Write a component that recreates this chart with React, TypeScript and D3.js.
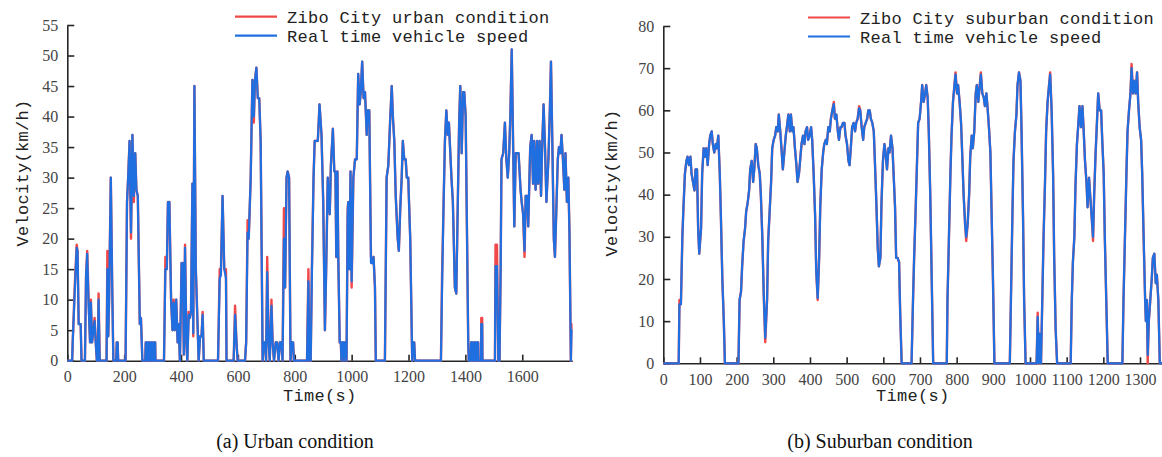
import React, { useEffect, useRef } from 'react'
import * as d3 from 'd3'

type Pt = [number, number]

// (a) urban driving cycle: [time s, km/h]
const urbanCycle: Pt[] = [
  [0,0],[17,0],[19,3],[26,12],[33,19],[36,18],[40,6],[47,6],[50,0],[62,0],[66,14],[70,18],[75,10],[80,3],[83,10],[87,3],[96,7],[100,3],[104,0],[107,0],[110,11],[114,0],
  [138,0],[141,18],[144,4],[147,10],[153,30],[158,12],[162,0],[172,0],[174,3],[177,3],[179,0],
  [205,0],[210,26],[214,30],[219,36],[224,20],[229,37],[234,26],[239,34],[243,28],[248,27],[255,6],[259,7],[264,0],
  [274,0],[276,3],[280,3],[281,0],[284,0],[286,3],[289,3],[290,0],[294,0],[296,3],[299,3],[300,0],[305,0],[306,3],[309,3],[310,0],
  [340,0],[345,17],[350,15],[354,26],[359,26],[365,10],[370,5],[374,10],[378,5],[383,10],[388,3],[392,6],[396,0],[402,16],[406,16],[410,1],[414,19],[419,3],[422,0],[427,8],[431,7],[435,8],[440,29],[443,4],[447,45],[452,15],[458,6],[462,0],[467,4],[472,4],[476,8],[480,0],
  [530,0],[536,15],[540,14],[546,27],[552,15],[558,15],[560,0],
  [585,0],[590,9],[595,3],[599,0],
  [625,0],[629,3],[634,23],[638,20],[645,30],[651,46],[656,39],[660,46],[665,48],[670,43],[675,43],[680,36],[687,0],[692,3],[697,3],[699,0],[703,17],[708,3],[712,0],[718,10],[722,3],[727,0],[733,3],[738,3],[743,0],[748,3],[753,3],[757,0],[762,25],[766,12],[771,30],[775,31],[780,30],[785,0],[789,3],[794,3],[797,0],
  [843,0],[848,15],[851,0],[856,0],[860,15],[866,30],[870,36],[875,36],[881,36],[887,42],[894,37],[900,26],[906,5],[910,14],[916,30],[923,24],[927,32],[934,38],[939,31],[943,31],[946,17],[950,31],[953,17],[958,3],[962,3],[964,0],[967,3],[971,3],[973,0],[976,3],[980,3],[982,0],[986,25],[988,26],[992,15],[996,31],[1000,12],[1006,30],[1012,33],[1018,33],[1023,47],[1028,42],[1032,44],[1037,49],[1042,43],[1047,44],[1053,37],[1056,41],[1062,41],[1068,17],[1073,16],[1077,17],[1082,12],[1085,0],
  [1117,0],[1123,30],[1129,32],[1136,40],[1141,45],[1145,40],[1150,36],[1155,27],[1162,20],[1166,18],[1171,25],[1176,30],[1180,36],[1185,33],[1190,33],[1194,30],[1199,30],[1206,20],[1213,0],[1217,3],[1220,3],[1223,0],
  [1314,0],[1318,14],[1323,25],[1328,36],[1333,41],[1338,37],[1342,39],[1347,34],[1351,30],[1356,26],[1363,12],[1368,11],[1373,25],[1378,39],[1382,45],[1387,34],[1392,44],[1396,44],[1401,40],[1410,3],[1412,0],
  [1419,0],[1420,3],[1424,3],[1425,0],[1430,0],[1431,3],[1435,3],[1436,0],[1440,0],[1441,3],[1445,3],[1446,0],[1455,0],[1456,7],[1459,7],[1460,0],
  [1504,0],[1506,19],[1511,19],[1516,0],[1518,3],[1520,0],[1524,15],[1527,33],[1533,34],[1539,39],[1544,33],[1549,30],[1554,34],[1558,40],[1563,51],[1568,35],[1572,22],[1577,34],[1582,34],[1587,34],[1594,28],[1598,26],[1603,24],[1608,17],[1612,27],[1617,27],[1621,22],[1628,35],[1633,37],[1638,29],[1642,36],[1647,28],[1652,36],[1656,29],[1661,36],[1666,27],[1670,35],[1675,42],[1680,35],[1685,26],[1692,33],[1697,41],[1701,49],[1706,35],[1711,20],[1715,17],[1720,25],[1725,33],[1729,35],[1734,34],[1738,37],[1743,33],[1748,28],[1752,34],[1757,26],[1762,30],[1766,21],[1771,0],[1773,6],[1776,6],
]

const urbanSpeed: Pt[] = [
  [0,0],[17,0],[19,3],[26,11],[33,18.5],[36,18],[40,6],[47,6],[50,0],[62,0],[66,14],[70,17.5],[75,9],[80,3],[83,9.5],[87,3],[96,6.5],[100,3],[104,0],[107,0],[110,10],[114,0],
  [138,0],[141,15],[144,4],[147,10],[153,30],[158,12],[162,0],[172,0],[174,3],[177,3],[179,0],
  [205,0],[210,26],[214,30],[219,36],[224,21],[229,37],[234,27],[239,34],[243,28],[248,27],[255,6],[259,7],[264,0],
  [274,0],[276,3],[280,3],[281,0],[284,0],[286,3],[289,3],[290,0],[294,0],[296,3],[299,3],[300,0],[305,0],[306,3],[309,3],[310,0],
  [340,0],[345,15],[350,15],[354,26],[359,26],[365,10],[370,5],[374,9.5],[378,5],[383,10],[388,3],[392,6],[396,0],[402,16],[406,16],[410,1],[414,18.5],[419,3],[422,0],[427,7.5],[431,7],[435,8],[440,29],[443,4.5],[447,45],[452,15],[458,6],[462,0],[467,4],[472,4],[476,7.5],[480,0],
  [530,0],[536,13.5],[540,14],[546,27],[552,15],[558,13.5],[560,0],
  [585,0],[590,7.5],[595,3],[599,0],
  [625,0],[629,3],[634,21],[638,20],[645,30],[651,46],[656,40],[660,46],[665,48],[670,43],[675,43],[680,36],[687,0],[692,3],[697,3],[699,0],[703,14.5],[708,3],[712,0],[718,9],[722,3],[727,0],[733,3],[738,3],[743,0],[748,3],[753,3],[757,0],[762,20],[766,12],[771,30],[775,31],[780,30],[785,0],[789,3],[794,3],[797,0],
  [843,0],[848,13],[851,0],[856,0],[860,13.5],[866,30],[870,36],[875,36],[881,36],[887,42],[894,37],[900,26],[906,5],[910,14],[916,30],[923,24],[927,32],[934,38],[939,31],[943,31],[946,17],[950,31],[953,17],[958,3],[962,3],[964,0],[967,3],[971,3],[973,0],[976,3],[980,3],[982,0],[986,24],[988,26],[992,15],[996,31],[1000,13],[1006,30],[1012,33],[1018,33],[1023,47],[1028,42],[1032,44],[1037,49],[1042,43],[1047,44],[1053,37],[1056,41],[1062,41],[1068,16],[1073,16],[1077,17],[1082,12],[1085,0],
  [1117,0],[1123,30],[1129,32],[1136,40],[1141,45],[1145,40],[1150,36],[1155,27],[1162,20],[1166,18],[1171,25],[1176,30],[1180,36],[1185,33],[1190,33],[1194,30],[1199,30],[1206,20],[1213,0],[1217,3],[1220,3],[1223,0],
  [1314,0],[1318,12],[1323,25],[1328,36],[1333,41],[1338,37],[1342,39],[1347,34],[1351,30],[1356,26],[1363,12],[1368,11],[1373,25],[1378,39],[1382,45],[1387,34],[1392,44],[1396,44],[1401,40],[1410,3],[1412,0],
  [1419,0],[1420,3],[1424,3],[1425,0],[1430,0],[1431,3],[1435,3],[1436,0],[1440,0],[1441,3],[1445,3],[1446,0],[1455,0],[1456,6],[1459,6],[1460,0],
  [1504,0],[1506,15.5],[1511,15.5],[1516,0],[1518,3],[1520,0],[1524,15],[1527,33],[1533,34],[1539,39],[1544,33],[1549,30],[1554,34],[1558,40],[1563,51],[1568,35],[1572,22],[1577,34],[1582,34],[1587,34],[1594,28],[1598,26],[1603,24],[1608,18],[1612,27],[1617,27],[1621,22],[1628,35],[1633,37],[1638,29],[1642,36],[1647,28],[1652,36],[1656,29],[1661,36],[1666,27],[1670,35],[1675,42],[1680,35],[1685,26],[1692,33],[1697,41],[1701,49],[1706,35],[1711,20],[1715,17],[1720,25],[1725,33],[1729,35],[1734,34],[1738,37],[1743,33],[1748,28],[1752,34],[1757,26],[1762,30],[1766,21],[1771,0],[1773,5],[1776,5],
]

// (b) suburban driving cycle
const suburbanCycle: Pt[] = [
  [0,0],[42,0],[44,15],[48,14],[52,30],[55,37],[59,45],[63,48],[66,49],[70,47],[74,49],[77,45],[81,43],[85,41],[88,46],[92,46],[95,32],[98,26],[103,32],[106,45],[110,51],[114,49],[117,51],[121,47],[125,52],[128,54],[132,55],[135,52],[139,50],[143,52],[146,51],[150,54],[154,45],[157,35],[161,20],[165,10],[168,0],
  [205,0],[208,15],[212,17],[215,23],[219,29],[223,32],[226,36],[230,38],[234,41],[237,46],[241,48],[245,43],[248,46],[252,52],[255,51],[259,47],[263,45],[266,40],[270,30],[274,16],[278,5],[283,15],[286,29],[290,36],[294,43],[297,51],[301,53],[305,54],[308,56],[312,55],[315,59],[319,55],[323,50],[326,46],[330,50],[334,54],[337,56],[341,59],[345,55],[348,59],[352,55],[355,56],[359,51],[363,47],[366,43],[370,45],[374,49],[377,52],[381,54],[385,52],[388,55],[392,56],[395,53],[399,54],[403,56],[406,53],[410,45],[414,35],[417,22],[421,15],
  [425,25],[428,37],[432,46],[436,50],[439,52],[443,53],[446,52],[450,56],[454,55],[457,58],[461,60],[465,62],[468,58],[472,59],[476,55],[479,53],[483,56],[486,56],[490,57],[494,57],[497,54],[501,52],[505,48],[508,47],[512,52],[515,56],[519,57],[523,55],[526,57],[530,58],[534,61],[537,60],[541,56],[545,53],[548,56],[552,57],[556,58],[559,60],[563,60],[566,58],[570,57],[574,55],[577,48],[581,38],[585,27],[588,23],[592,25],[595,38],[599,48],[603,52],[606,50],[610,46],[614,51],[617,50],[621,54],[625,51],[628,45],[632,37],[635,25],[639,25],[643,24],[646,12],[650,0],
  [677,0],[681,15],[684,25],[688,36],[692,48],[695,57],[699,58],[703,62],[706,66],[710,62],[714,64],[717,66],[721,63],[724,55],[728,40],[732,20],[736,0],
  [773,0],[775,15],[779,30],[783,45],[786,54],[790,62],[794,66],[797,69],[801,64],[804,66],[808,62],[812,57],[815,50],[819,40],[823,33],[826,29],[830,33],[834,40],[837,49],[841,54],[844,51],[848,55],[852,64],[855,66],[859,62],[863,66],[866,69],[870,64],[874,63],[877,61],[881,64],[884,61],[888,56],[892,50],[895,37],[899,20],[903,0],
  [945,0],[948,15],[952,35],[955,48],[959,55],[963,59],[966,66],[970,69],[974,67],[977,55],[981,35],[984,15],[988,0],
  [1018,0],[1021,12],[1024,0],[1026,7],[1030,0],[1034,17],[1037,30],[1041,43],[1044,55],[1048,62],[1052,66],[1055,69],[1059,60],[1063,45],[1066,25],[1070,8],[1074,0],
  [1111,0],[1114,15],[1117,24],[1121,30],[1124,42],[1128,52],[1132,57],[1135,61],[1139,56],[1143,61],[1146,56],[1150,48],[1154,43],[1157,37],[1161,44],[1164,40],[1168,35],[1172,29],[1175,40],[1179,50],[1183,58],[1186,64],[1190,60],[1194,60],[1197,53],[1201,45],[1204,30],[1208,15],[1212,0],
  [1252,0],[1255,15],[1259,30],[1263,45],[1266,55],[1270,60],[1274,64],[1277,71],[1281,64],[1284,67],[1288,64],[1292,69],[1295,62],[1299,56],[1303,53],[1306,45],[1310,29],[1314,15],[1316,10],[1319,15],[1321,0],[1324,10],[1328,15],[1332,20],[1335,25],[1339,26],[1343,19],[1346,21],[1350,15],[1354,0],[1360,0],
]

const suburbanSpeed: Pt[] = [
  [0,0],[42,0],[44,14],[48,14],[52,30],[55,37],[59,45],[63,48],[66,49],[70,47],[74,49],[77,45],[81,43],[85,41],[88,46],[92,46],[95,32],[98,26],[103,32],[106,45],[110,51],[114,49],[117,51],[121,47],[125,52],[128,54],[132,55],[135,52],[139,50],[143,52],[146,51],[150,54],[154,45],[157,35],[161,20],[165,10],[168,0],
  [205,0],[208,15],[212,17],[215,23],[219,29],[223,32],[226,36],[230,38],[234,41],[237,46],[241,48],[245,43],[248,46],[252,52],[255,51],[259,47],[263,45],[266,40],[270,30],[274,16],[278,6],[283,15],[286,29],[290,36],[294,43],[297,51],[301,53],[305,54],[308,56],[312,55],[315,59],[319,55],[323,50],[326,46],[330,50],[334,54],[337,56],[341,59],[345,55],[348,59],[352,55],[355,56],[359,51],[363,47],[366,43],[370,45],[374,49],[377,52],[381,54],[385,52],[388,55],[392,56],[395,53],[399,54],[403,56],[406,53],[410,45],[414,35],[417,22],[421,15.5],
  [425,25],[428,37],[432,46],[436,50],[439,52],[443,53],[446,52],[450,56],[454,55],[457,58],[461,60],[465,61.5],[468,58],[472,59],[476,55],[479,53],[483,56],[486,56],[490,57],[494,57],[497,54],[501,52],[505,48],[508,47],[512,52],[515,56],[519,57],[523,55],[526,57],[530,58],[534,60.5],[537,60],[541,56],[545,53],[548,56],[552,57],[556,58],[559,60],[563,60],[566,58],[570,57],[574,55],[577,48],[581,38],[585,27],[588,23],[592,25],[595,38],[599,48],[603,52],[606,50],[610,46],[614,51],[617,50],[621,54],[625,51],[628,45],[632,37],[635,25],[639,25],[643,24],[646,12],[650,0],
  [677,0],[681,15],[684,25],[688,36],[692,48],[695,57],[699,58],[703,62],[706,66],[710,62],[714,64],[717,66],[721,63],[724,55],[728,40],[732,20],[736,0],
  [773,0],[775,15],[779,30],[783,45],[786,54],[790,62],[794,66],[797,68.5],[801,64],[804,66],[808,62],[812,57],[815,50],[819,40],[823,33],[826,30],[830,33],[834,40],[837,49],[841,54],[844,51],[848,55],[852,64],[855,66],[859,62],[863,66],[866,68.5],[870,64],[874,63],[877,61],[881,64],[884,61],[888,56],[892,50],[895,37],[899,20],[903,0],
  [945,0],[948,15],[952,35],[955,48],[959,55],[963,59],[966,66],[970,69],[974,67],[977,55],[981,35],[984,15],[988,0],
  [1018,0],[1021,11],[1024,0],[1026,7],[1030,0],[1034,17],[1037,30],[1041,43],[1044,55],[1048,62],[1052,66],[1055,68.5],[1059,60],[1063,45],[1066,25],[1070,8],[1074,0],
  [1111,0],[1114,15],[1117,24],[1121,30],[1124,42],[1128,52],[1132,57],[1135,61],[1139,56],[1143,61],[1146,56],[1150,48],[1154,43],[1157,37],[1161,44],[1164,40],[1168,35],[1172,30],[1175,40],[1179,50],[1183,58],[1186,64],[1190,60],[1194,60],[1197,53],[1201,45],[1204,30],[1208,15],[1212,0],
  [1252,0],[1255,15],[1259,30],[1263,45],[1266,55],[1270,60],[1274,64],[1277,70],[1281,64],[1284,67],[1288,64],[1292,69],[1295,62],[1299,56],[1303,53],[1306,45],[1310,30],[1314,15],[1316,10],[1319,15],[1321,2],[1324,10],[1328,15],[1332,20],[1335,25],[1339,26],[1343,19],[1346,21],[1350,15],[1354,0],[1360,0],
]

const urbanXTicks = [0, 200, 400, 600, 800, 1000, 1200, 1400, 1600]
const urbanYTicks = [0, 5, 10, 15, 20, 25, 30, 35, 40, 45, 50, 55]
const suburbanXTicks = [0, 100, 200, 300, 400, 500, 600, 700, 800, 900, 1000, 1100, 1200, 1300]
const suburbanYTicks = [0, 10, 20, 30, 40, 50, 60, 70, 80]

const urbanLegend = ['Zibo City urban condition', 'Real time vehicle speed']
const suburbanLegend = ['Zibo City suburban condition', 'Real time vehicle speed']

const RED = '#f04848'
const BLUE = '#1f6fe0'
const AXIS = '#262626'
const MONO = '"Liberation Mono", "DejaVu Sans Mono", monospace'
const SERIF = '"Liberation Serif", "Times New Roman", serif'

function drawPanel(svg: any, p: any) {
  const x = d3.scaleLinear().domain([0, p.xMax]).range([p.x0, p.x1])
  const y = d3.scaleLinear().domain([0, p.yMax]).range([p.y0, p.y1])
  const g = svg.append('g')
  const fmt = d3.format('d')

  const xAxis = g.append('g')
    .attr('transform', `translate(0,${p.y0})`)
    .call(d3.axisBottom(x).tickValues(p.xTicks).tickFormat(fmt).tickSizeInner(-6).tickSizeOuter(0).tickPadding(10))
  const yAxis = g.append('g')
    .attr('transform', `translate(${p.x0},0)`)
    .call(d3.axisLeft(y).tickValues(p.yTicks).tickFormat(fmt).tickSizeInner(-7).tickSizeOuter(0).tickPadding(9))

  ;[xAxis, yAxis].forEach((a) => {
    a.attr('font-family', SERIF).attr('font-size', 16)
    a.select('.domain').attr('stroke', AXIS).attr('stroke-width', 1.6)
    a.selectAll('.tick line').attr('stroke', AXIS).attr('stroke-width', 1.6)
    a.selectAll('.tick text')
      .attr('fill', '#444')
      .style('font-family', SERIF)
      .style('font-size', '16px')
  })

  const line = d3.line<Pt>().x((d) => x(d[0])).y((d) => y(d[1]))

  g.append('path').datum(p.cycle).attr('d', line)
    .attr('fill', 'none').attr('stroke', RED).attr('stroke-width', 2.4).attr('stroke-linejoin', 'round')
  g.append('path').datum(p.speed).attr('d', line)
    .attr('fill', 'none').attr('stroke', BLUE).attr('stroke-width', 2.2).attr('stroke-linejoin', 'round')

  // legend
  const lg = g.append('g').attr('font-family', MONO).attr('font-size', 17).attr('fill', '#222')
  ;[RED, BLUE].forEach((c, i) => {
    const ly = p.legendY + i * 19
    lg.append('line').attr('x1', p.legendX).attr('x2', p.legendX + 42)
      .attr('y1', ly).attr('y2', ly).attr('stroke', c).attr('stroke-width', 2.2)
    lg.append('text').attr('x', p.legendX + 52).attr('y', ly + 6)
      .attr('letter-spacing', 0.3).text(p.legend[i])
  })

  // axis titles
  g.append('text')
    .attr('transform', `translate(${p.yTitleX},${p.yTitleY}) rotate(-90)`)
    .attr('text-anchor', 'middle').attr('font-family', MONO).attr('font-size', 17)
    .attr('letter-spacing', 0.3).attr('fill', '#222').text('Velocity(km/h)')
  g.append('text')
    .attr('x', (p.x0 + p.x1) / 2).attr('y', 401)
    .attr('text-anchor', 'middle').attr('font-family', MONO).attr('font-size', 17)
    .attr('letter-spacing', 0.3).attr('fill', '#222').text('Time(s)')
  g.append('text')
    .attr('x', p.captionX).attr('y', 448)
    .attr('text-anchor', 'middle').attr('font-family', SERIF).attr('font-size', 20)
    .attr('fill', '#111').text(p.caption)
}

export default function App() {
  const ref = useRef<SVGSVGElement>(null)

  useEffect(() => {
    const svg = d3.select(ref.current)
    svg.selectAll('*').remove()
    svg.append('rect').attr('width', 1162).attr('height', 457).attr('fill', '#fff')

    drawPanel(svg, {
      x0: 67.3, x1: 572.3, y0: 360.7, y1: 25, xMax: 1776, yMax: 55,
      xTicks: urbanXTicks, yTicks: urbanYTicks,
      cycle: urbanCycle, speed: urbanSpeed,
      legend: urbanLegend, legendX: 235, legendY: 16.7,
      yTitleX: 28, yTitleY: 173,
      caption: '(a) Urban condition', captionX: 295,
    })
    drawPanel(svg, {
      x0: 663.3, x1: 1162, y0: 363.3, y1: 26, xMax: 1360, yMax: 80,
      xTicks: suburbanXTicks, yTicks: suburbanYTicks,
      cycle: suburbanCycle, speed: suburbanSpeed,
      legend: suburbanLegend, legendX: 808, legendY: 17.5,
      yTitleX: 617, yTitleY: 183,
      caption: '(b) Suburban condition', captionX: 880,
    })
  }, [])

  return (
    <svg ref={ref} width={1162} height={457}
      style={{ position: 'absolute', left: 0, top: 0, display: 'block' }} />
  )
}
